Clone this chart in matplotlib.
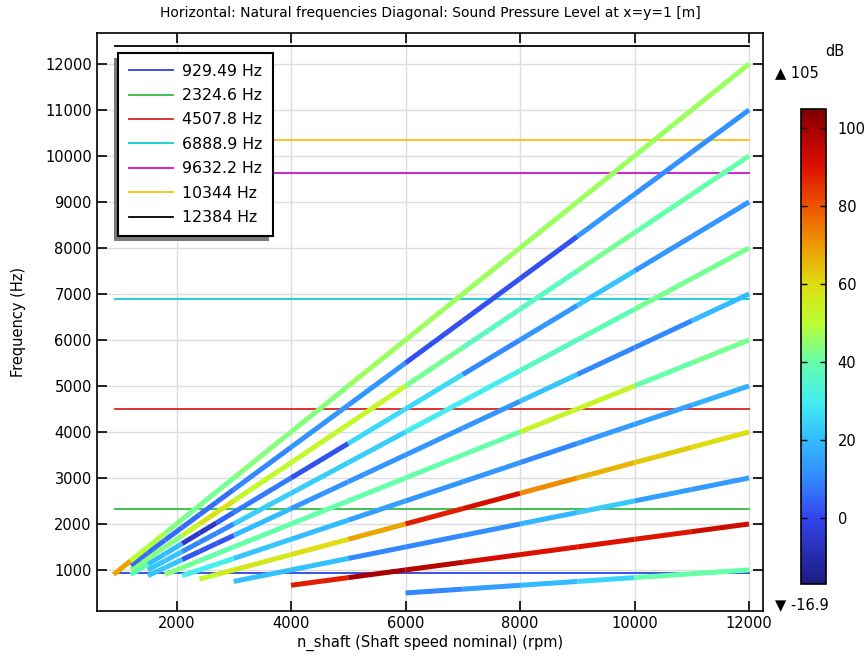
import numpy as np
import matplotlib.pyplot as plt
from matplotlib.collections import LineCollection
from matplotlib.colors import LinearSegmentedColormap, Normalize
from matplotlib.patches import Rectangle
from matplotlib.transforms import IdentityTransform

# natural frequencies (horizontal lines)
nat_freqs = [929.49, 2324.6, 4507.8, 6888.9, 9632.2, 10344, 12384]
nat_labels = ["929.49 Hz", "2324.6 Hz", "4507.8 Hz", "6888.9 Hz",
              "9632.2 Hz", "10344 Hz", "12384 Hz"]
nat_colors = ["#2a44e6", "#33bb44", "#dd2222", "#11cccc",
              "#cc11cc", "#ffbb11", "#000000"]
nat_rpm_range = [923, 12000]

# shaft speed sweep (rpm)
rpm_sweep = [900, 1200, 1500, 1800, 2100, 2400, 2700, 3000, 4000, 5000,
             6000, 7000, 8000, 9000, 10000, 11000, 12000]

# excitation orders and where each order line starts in the sweep
orders = [5, 10, 15, 20, 25, 30, 35, 40, 45, 50, 55, 60]
start_rpm = [6000, 4000, 3000, 2400, 2100, 1800, 1500, 1500, 1200, 1200, 1200, 900]

# sound pressure level (dB) on each segment of each order line
spl_o5 = [10, 15, 20, 25, 40, 40]
spl_o10 = [88, 100, 97, 92, 90, 90, 89, 93]
spl_o15 = [21, 21, 10, 10, 12, 19, 23, 15, 14]
spl_o20 = [52, 56, 57, 60, 68, 88, 91, 72, 66, 63, 60]
spl_o25 = [30, 30, 30, 22, 20, 15, 13, 13, 10, 14, 15, 18]
spl_o30 = [44, 42, 40, 40, 40, 40, 40, 40, 40, 53, 53, 40, 42]
spl_o35 = [22, 22, 3, 3, 3, 20, 13, 13, 13, 13, 22, 10, 10, 20]
spl_o40 = [22, 22, 10, 10, 10, 24, 24, 24, 30, 30, 36, 38, 42, 42]
spl_o45 = [38, 20, 20, -5, -5, 5, 8, 2, 26, 26, 10, 13, 22, 13, 13]
spl_o50 = [44, 44, 44, 52, 58, 58, 52, 52, 52, 42, 37, 37, 42, 40, 40]
spl_o55 = [6, 6, 6, 6, 6, 6, 10, 13, 13, 2, 2, 2, 13, 12, 12]
spl_o60 = [68, 50, 48, 44, 42, 42, 42, 44, 44, 46, 46, 46, 46, 46, 46, 46]
spl_lines = [spl_o5, spl_o10, spl_o15, spl_o20, spl_o25, spl_o30,
             spl_o35, spl_o40, spl_o45, spl_o50, spl_o55, spl_o60]

spl_min, spl_max = -16.9, 105

# COMSOL-like rainbow colour table
cmap_vals = [-16.9, 0, 10, 20, 30, 40, 50, 60, 70, 80, 90, 100, 105]
cmap_cols = ["#1c1c80", "#3344ee", "#3388ff", "#33bbff", "#44eeee", "#66ffaa",
             "#bbff33", "#dddd11", "#ee9900", "#ee5500", "#dd1100", "#a80000", "#780000"]
cmap = LinearSegmentedColormap.from_list(
    "rainbow_comsol",
    [((v - spl_min) / (spl_max - spl_min), c) for v, c in zip(cmap_vals, cmap_cols)])
norm = Normalize(spl_min, spl_max)

plt.rcParams["font.family"] = "DejaVu Sans"
fig = plt.figure(figsize=(8.68, 6.56), dpi=100)
ax = fig.add_axes([0.1114, 0.0691, 0.7677, 0.8811])

for f, c, lab in zip(nat_freqs, nat_colors, nat_labels):
    ax.plot(nat_rpm_range, [f, f], color=c, lw=1.3, label=lab, zorder=2)

for order, s0, spl in zip(orders, start_rpm, spl_lines):
    rpm = np.array([r for r in rpm_sweep if r >= s0], dtype=float)
    assert len(spl) == len(rpm) - 1, order
    freq = order * rpm / 60.0
    pts = np.column_stack([rpm, freq])
    segs = np.stack([pts[:-1], pts[1:]], axis=1)
    lc = LineCollection(segs, cmap=cmap, norm=norm, linewidths=3.6,
                        capstyle="butt", zorder=3)
    lc.set_array(np.array(spl, dtype=float))
    ax.add_collection(lc)

ax.set_xlim(606, 12245)
ax.set_ylim(115, 12680)
ax.set_xticks([2000, 4000, 6000, 8000, 10000, 12000])
ax.set_yticks(np.arange(1000, 12001, 1000))
ax.grid(True, color="#dddddd", lw=1)
ax.set_axisbelow(True)
ax.tick_params(direction="in", length=7, width=1.2, top=True, right=True,
               labelsize=10.5)
for sp in ax.spines.values():
    sp.set_linewidth(1.2)
ax.set_xlabel("n_shaft (Shaft speed nominal) (rpm)", fontsize=10.5, labelpad=3)
ax.set_ylabel("Frequency (Hz)", fontsize=10.5, labelpad=14)
ax.set_title("Horizontal: Natural frequencies Diagonal: Sound Pressure Level at x=y=1 [m]",
             fontsize=10, pad=11)

leg = ax.legend(loc="upper left", bbox_to_anchor=(0.0315, 0.9654), borderaxespad=0,
                fancybox=False, edgecolor="black", framealpha=1, fontsize=11.3,
                handlelength=2.8, handletextpad=0.6, labelspacing=0.6,
                borderpad=0.7)
leg.get_frame().set_linewidth(1.5)
leg.set_zorder(6)

fig.canvas.draw()
bb = leg.get_window_extent()
shadow = Rectangle((bb.x0 - 4, bb.y0 - 5), bb.width, bb.height,
                   transform=IdentityTransform(), facecolor="#7a7a7a",
                   edgecolor="none", zorder=5.5)
ax.add_patch(shadow)

# colour legend
cax = fig.add_axes([0.9228, 0.1098, 0.0288, 0.7248])
sm = plt.cm.ScalarMappable(norm=norm, cmap=cmap)
cb = fig.colorbar(sm, cax=cax, ticks=[0, 20, 40, 60, 80, 100])
cb.outline.set_linewidth(1.2)
cax.tick_params(direction="in", length=4, width=1, left=True, right=True,
                labelsize=10.5, pad=8.5)
fig.text(0.962, 0.921, "dB", fontsize=10.5, ha="center", va="center")
fig.text(0.893, 0.889, "\u25b2 105", fontsize=10.5, ha="left", va="center")
fig.text(0.893, 0.079, "\u25bc -16.9", fontsize=10.5, ha="left", va="center")

fig.savefig("out.png", dpi=100)
